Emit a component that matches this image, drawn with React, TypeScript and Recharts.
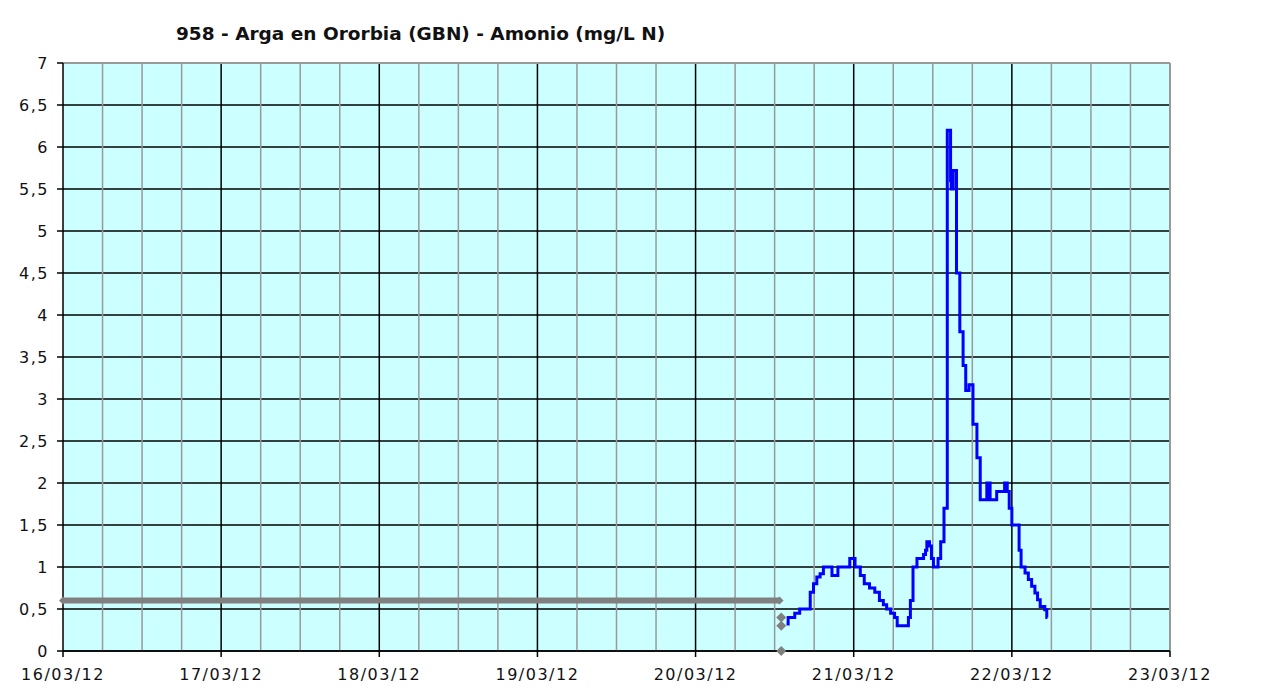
import { ComposedChart, Line, Scatter, XAxis, YAxis, CartesianGrid, ReferenceLine } from "recharts";

const TITLE = "958 - Arga en Ororbia (GBN) - Amonio (mg/L N)";

const dayTicks = [0, 1, 2, 3, 4, 5, 6, 7];
const dayLabels = ["16/03/12", "17/03/12", "18/03/12", "19/03/12", "20/03/12", "21/03/12", "22/03/12", "23/03/12"];
const yTicks = [0, 0.5, 1, 1.5, 2, 2.5, 3, 3.5, 4, 4.5, 5, 5.5, 6, 6.5, 7];

// times are hours after 20/03/12 00:00
const blueHours = [
    13.8, 14.05, 15.05, 15.8, 17.4, 17.9, 18.4, 18.9, 19.4, 20.7, 21.6, 23.4, 24.2, 25.0, 25.6,
    26.4, 27.2, 27.9, 28.5, 29.0, 29.6, 30.2, 30.6, 32.3, 32.6, 33.0, 33.6, 34.6, 34.9,
    35.1, 35.5, 35.8, 36.1, 36.8, 37.2, 37.7, 38.2, 38.7, 38.8, 38.9, 39.0, 39.1, 39.6,
    40.1, 40.6, 41.0, 41.5, 42.1, 42.7, 43.2, 44.2, 44.4, 44.5, 44.7, 45.7, 46.9, 47.3,
    47.6, 48.0, 49.1, 49.4, 50.0, 50.5, 51.0, 51.5, 51.9, 52.3, 53.0, 53.3, 53.4
];
const blueValues = [
    0.32, 0.4, 0.45, 0.5, 0.7, 0.8, 0.88, 0.92, 1.0, 0.9, 1.0, 1.1, 1.0, 0.9, 0.8,
    0.75, 0.7, 0.6, 0.55, 0.5, 0.45, 0.4, 0.3, 0.4, 0.6, 1.0, 1.1, 1.15, 1.2,
    1.3, 1.25, 1.1, 1.0, 1.1, 1.3, 1.7, 6.2, 5.6, 5.5, 5.7, 5.5, 5.72, 4.5,
    3.8, 3.4, 3.1, 3.17, 2.7, 2.3, 1.8, 2.0, 1.8, 2.0, 1.8, 1.9, 2.0, 1.9,
    1.7, 1.5, 1.2, 1.0, 0.93, 0.85, 0.77, 0.69, 0.61, 0.53, 0.49, 0.4, 0.4
];
const greyHours = [-96, 12.75];
const greyValues = [0.6, 0.6];
const greyDotHours = [13, 13, 13];
const greyDotValues = [0.4, 0.3, 0];

const toDay = (h: number) => 4 + h / 24;

const blueData = blueHours.map((h, i) => ({ x: toDay(h), y: blueValues[i] }));
const greyData = greyHours.map((h, i) => ({ x: toDay(h), y: greyValues[i] }));
const greyDots = greyDotHours.map((h, i) => ({ x: toDay(h), y: greyDotValues[i] }));

// every 6 hours, skipping the day lines
const minorLines = Array.from({ length: 28 }, (_, i) => i / 4).filter((v) => v % 1 !== 0);

const GREY = "#808080";

function diamond(r: number) {
    return (props: any) => {
        const { cx, cy, key } = props;
        if (cx == null || cy == null) return <g key={key} />;
        return (
            <path
                key={key}
                d={`M${cx},${cy - r}L${cx + r},${cy}L${cx},${cy + r}L${cx - r},${cy}Z`}
                fill={GREY}
            />
        );
    };
}

const tickFont = { fontSize: 16, fill: "#111", fontFamily: "DejaVu Sans" };

export default function App() {
    return (
        <div style={{ position: "relative", width: 1240, height: 675 }}>
            <ComposedChart width={1240} height={675} margin={{ top: 55, right: 78, bottom: 2, left: 0 }}>
                <CartesianGrid fill="#ccffff" stroke="#000" strokeWidth={1.5} vertical={false} />
                {minorLines.map((v) => (
                    <ReferenceLine key={"m" + v} x={v} stroke="#999" strokeWidth={1.5} />
                ))}
                {dayTicks.slice(1, -1).map((v) => (
                    <ReferenceLine key={"d" + v} x={v} stroke="#000" strokeWidth={1.5} />
                ))}
                <ReferenceLine y={7} stroke="#999" strokeWidth={2} />
                <ReferenceLine x={7} stroke="#999" strokeWidth={2} />
                <XAxis
                    dataKey="x"
                    type="number"
                    domain={[0, 7]}
                    ticks={dayTicks}
                    interval={0}
                    tickFormatter={(v) => dayLabels[v] ?? ""}
                    height={30}
                    tickSize={6}
                    tickMargin={12}
                    axisLine={{ stroke: "#000", strokeWidth: 1.5 }}
                    tickLine={{ stroke: "#000", strokeWidth: 1.5 }}
                    tick={{ ...tickFont, letterSpacing: 1.5 }}
                />
                <YAxis
                    dataKey="y"
                    type="number"
                    domain={[0, 7]}
                    ticks={yTicks}
                    interval={0}
                    tickFormatter={(v) => String(v).replace(".", ",")}
                    width={55}
                    tickSize={6}
                    tickMargin={8}
                    axisLine={{ stroke: "#000", strokeWidth: 1.5 }}
                    tickLine={{ stroke: "#000", strokeWidth: 1.5 }}
                    tick={{ ...tickFont, letterSpacing: 1.5 }}
                />
                <Line
                    data={greyData}
                    dataKey="y"
                    type="linear"
                    stroke={GREY}
                    strokeWidth={6}
                    dot={diamond(4)}
                    activeDot={false}
                    isAnimationActive={false}
                />
                <Scatter data={greyDots} dataKey="y" shape={diamond(5)} isAnimationActive={false} />
                <Line
                    data={blueData}
                    dataKey="y"
                    type="stepAfter"
                    stroke="#0000ff"
                    strokeWidth={3}
                    dot={false}
                    activeDot={false}
                    isAnimationActive={false}
                />
            </ComposedChart>
            <svg width={700} height={50} style={{ position: "absolute", left: 0, top: 0 }}>
                <text x={168} y={32} fontSize={18.5} fontWeight="bold" fontFamily="DejaVu Sans" fill="#111">
                    {TITLE}
                </text>
            </svg>
        </div>
    );
}
